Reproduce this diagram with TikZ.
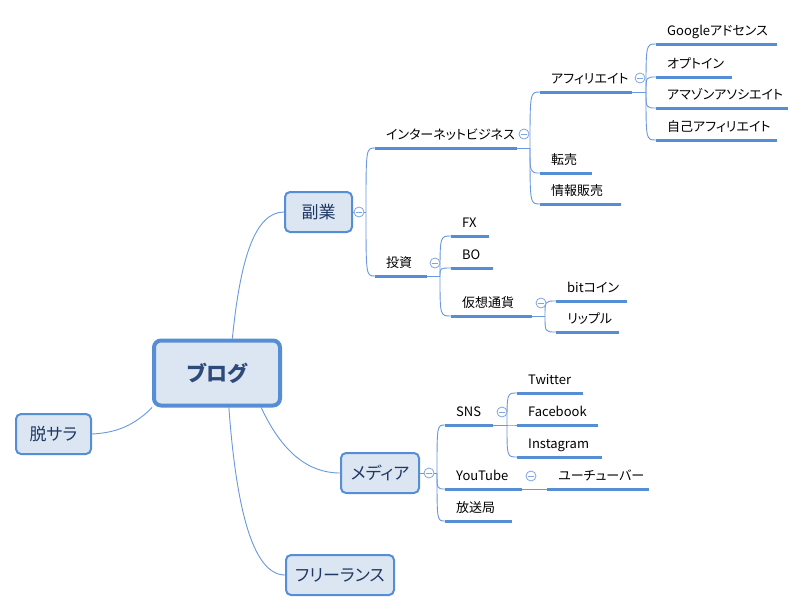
\documentclass[tikz,border=0pt]{standalone}
\usepackage{fontspec}
\setmainfont{Noto Sans CJK JP}[RawFeature=+palt]
\definecolor{boxline}{RGB}{85,142,213}
\definecolor{boxfill}{RGB}{220,230,242}
\definecolor{boxtext}{RGB}{31,56,100}
\definecolor{blogtext}{RGB}{45,74,122}
\definecolor{conncol}{RGB}{105,152,222}
\definecolor{mkcol}{RGB}{125,165,225}
\tikzset{
  mmbox/.style={rectangle, rounded corners=5pt, draw=boxline, fill=boxfill, line width=2pt,
    minimum height=40pt, text=boxtext, font=\fontsize{17}{20}\selectfont, inner sep=0pt},
  mmcenter/.style={mmbox, line width=4pt, rounded corners=7pt, minimum width=126pt, minimum height=65pt,
    text=blogtext, font=\fontsize{21}{24}\selectfont\bfseries},
  conn/.style={draw=conncol, line width=0.9pt},
  uline/.style={draw=boxline, line width=3pt},
  leaftext/.style={anchor=base west, inner sep=0pt, font=\fontsize{13}{15}\selectfont, text=black},
  collapse/.style={circle, draw=mkcol, fill=white, line width=0.8pt, minimum size=10pt, inner sep=0pt,
    path picture={\draw[mkcol, line width=0.8pt] ([xshift=-2.8pt]path picture bounding box.center) -- ([xshift=2.8pt]path picture bounding box.center);}}
}
\newcommand\mmleaf[5]{%
  \coordinate (#1-s) at (#2,#3);
  \coordinate (#1-e) at (#4,#3);
  \draw[uline] (#1-s) -- (#1-e);
  \node[leaftext] (#1) at ([shift={(11,-9)}]#1-s) {#5};
}
\newcommand\mmbranch[2]{\draw[conn] (#1) .. controls (#1 |- #2-s) .. (#2-s);}
\begin{document}
\begin{tikzpicture}[x=1pt, y=-1pt]
\useasboundingbox[fill=white] (0,0) rectangle (806,613);

% main boxes
\node[mmcenter] (blog) at (217,373) {ブログ};
\node[mmbox, minimum width=75pt] (datsu) at (53.5,434) {脱サラ};
\node[mmbox, minimum width=67pt] (fuku) at (318.5,212) {副業};
\node[mmbox, minimum width=78pt] (media) at (380,473) {メディア};
\node[mmbox, minimum width=108pt] (free) at (340,575) {フリーランス};

% main connectors
\draw[conn] (blog.66) .. controls (240,262) and (254,212) .. (fuku.west);
\draw[conn] (blog.-38) .. controls (282,452) and (308,473) .. (media.west);
\draw[conn] (blog.-71) .. controls (236,505) and (252,575) .. (free.west);
\draw[conn] (blog.-152) .. controls (132,428) and (112,433) .. (datsu.east);

% junctions
\coordinate (j-fuku) at (366,212);
\coordinate (j-inet) at (530,148);
\coordinate (j-afi) at (646,92);
\coordinate (j-toshi) at (440,276);
\coordinate (j-kaso) at (545,316);
\coordinate (j-media) at (437,473);
\coordinate (j-sns) at (507,425);

% leaves
\mmleaf{inet}{375}{148}{517}{インターネットビジネス}
\mmleaf{toshi}{375}{276}{427}{投資}
\mmleaf{afi}{540}{92}{632}{アフィリエイト}
\mmleaf{tenbai}{540}{173}{592}{転売}
\mmleaf{joho}{540}{204}{621}{情報販売}
\mmleaf{goog}{656}{44}{777}{Googleアドセンス}
\mmleaf{opt}{656}{77}{732}{オプトイン}
\mmleaf{amz}{656}{108}{788}{アマゾンアソシエイト}
\mmleaf{jiko}{656}{140}{777}{自己アフィリエイト}
\mmleaf{fx}{451}{236}{489}{FX}
\mmleaf{bo}{451}{268}{493}{BO}
\mmleaf{kaso}{451}{316}{532}{仮想通貨}
\mmleaf{bit}{556}{301}{627}{bitコイン}
\mmleaf{rip}{556}{332}{619}{リップル}
\mmleaf{sns}{445}{425}{493}{SNS}
\mmleaf{yt}{445}{489}{522}{YouTube}
\mmleaf{hoso}{445}{521}{512}{放送局}
\mmleaf{tw}{517}{393}{583}{Twitter}
\mmleaf{fb}{517}{425}{598}{Facebook}
\mmleaf{ig}{517}{457}{602}{Instagram}
\mmleaf{ytb}{547}{489}{649}{ユーチューバー}

% stems
\draw[conn] (fuku.east) -- (j-fuku);
\draw[conn] (inet-e) -- (j-inet);
\draw[conn] (afi-e) -- (j-afi);
\draw[conn] (toshi-e) -- (j-toshi);
\draw[conn] (kaso-e) -- (j-kaso);
\draw[conn] (media.east) -- (j-media);
\draw[conn] (sns-e) -- (j-sns);
\draw[conn] (yt-e) -- (ytb-s);

% branches
\mmbranch{j-fuku}{inet}
\mmbranch{j-fuku}{toshi}
\mmbranch{j-inet}{afi}
\mmbranch{j-inet}{tenbai}
\mmbranch{j-inet}{joho}
\mmbranch{j-afi}{goog}
\mmbranch{j-afi}{opt}
\mmbranch{j-afi}{amz}
\mmbranch{j-afi}{jiko}
\mmbranch{j-toshi}{fx}
\mmbranch{j-toshi}{bo}
\mmbranch{j-toshi}{kaso}
\mmbranch{j-kaso}{bit}
\mmbranch{j-kaso}{rip}
\mmbranch{j-media}{sns}
\mmbranch{j-media}{yt}
\mmbranch{j-media}{hoso}
\mmbranch{j-sns}{tw}
\mmbranch{j-sns}{fb}
\mmbranch{j-sns}{ig}

% collapse markers
\node[collapse] (c-fuku) at (359,212) {};
\node[collapse] (c-inet) at (524,134) {};
\node[collapse] (c-toshi) at (435,263) {};
\node[collapse] (c-afi) at (640,78) {};
\node[collapse] (c-kaso) at (541,303) {};
\node[collapse] (c-media) at (429,473) {};
\node[collapse] (c-sns) at (502,412) {};
\node[collapse] (c-yt) at (531,476) {};
\end{tikzpicture}
\end{document}
